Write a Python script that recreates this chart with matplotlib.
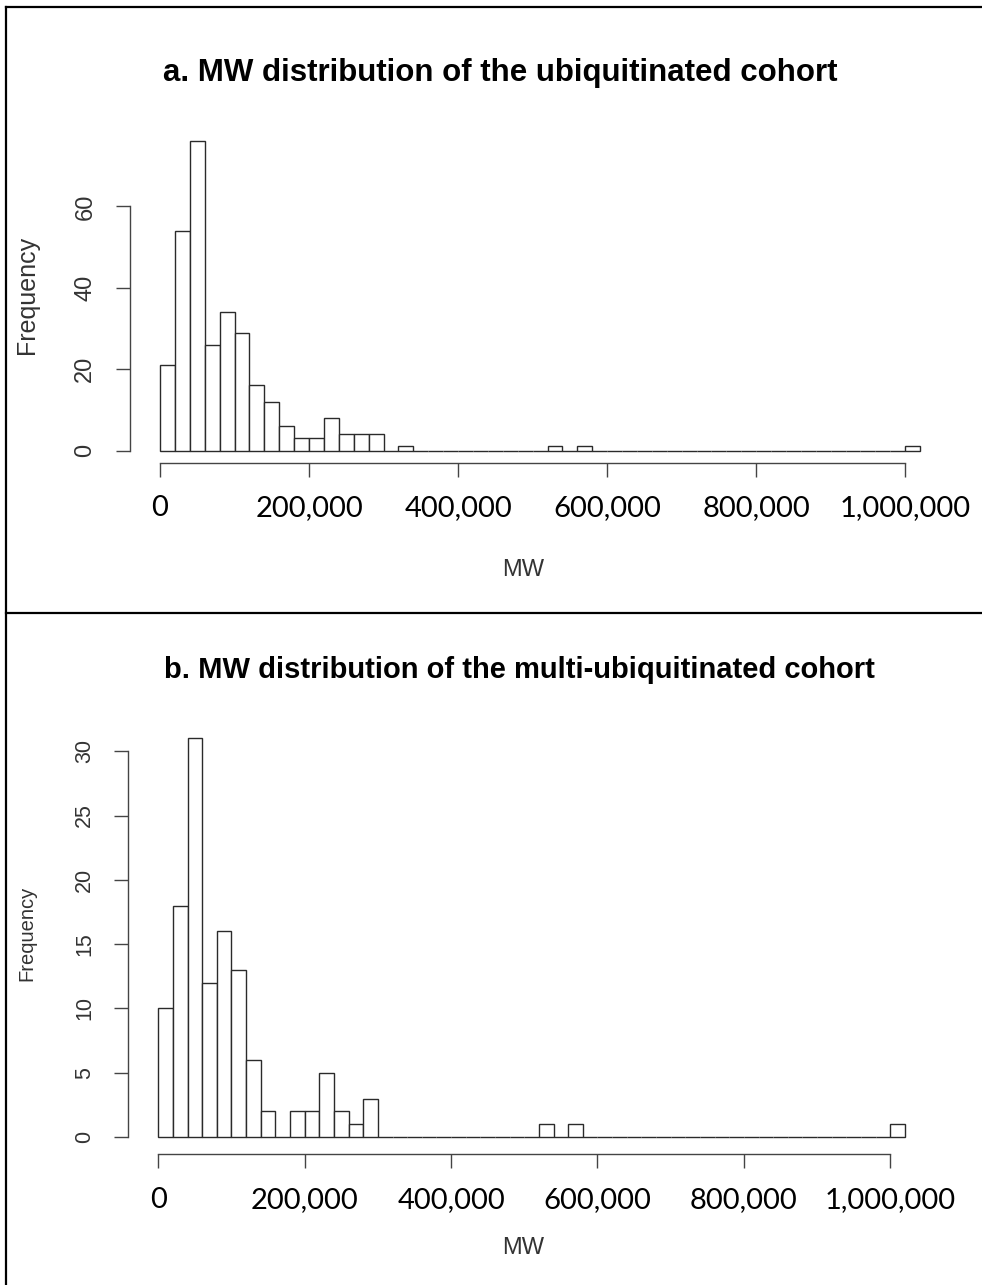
"""MW distribution histograms of the ubiquitinated and multi-ubiquitinated cohorts."""

import matplotlib

matplotlib.use("Agg")

import matplotlib.pyplot as plt  # noqa: E402
import numpy as np  # noqa: E402
from matplotlib.lines import Line2D  # noqa: E402

# ---------------------------------------------------------------------------
# Data (20,000 Da bins from 0 to 1,020,000; only non-empty bins listed)
# ---------------------------------------------------------------------------
BIN_WIDTH = 20000
N_BINS = 51

bins_a = [0, 20000, 40000, 60000, 80000, 100000, 120000, 140000, 160000,
          180000, 200000, 220000, 240000, 260000, 280000, 320000, 520000,
          560000, 1000000]
counts_a = [21, 54, 76, 26, 34, 29, 16, 12, 6, 3, 3, 8, 4, 4, 4, 1, 1, 1, 1]

bins_b = [0, 20000, 40000, 60000, 80000, 100000, 120000, 140000, 180000,
          200000, 220000, 240000, 260000, 280000, 520000, 560000, 1000000]
counts_b = [10, 18, 31, 12, 16, 13, 6, 2, 2, 2, 5, 2, 1, 3, 1, 1, 1]

x_ticks = [0, 200000, 400000, 600000, 800000, 1000000]
x_tick_labels = ["0", "200,000", "400,000", "600,000", "800,000", "1,000,000"]
y_ticks_a = [0, 20, 40, 60]
y_ticks_b = [0, 5, 10, 15, 20, 25, 30]

title_a = "a. MW distribution of the ubiquitinated cohort"
title_b = "b. MW distribution of the multi-ubiquitinated cohort"

FIG_W, FIG_H = 982, 1285
EDGE = "#2a2a2a"
AXIS = "#444444"


def full_counts(starts, counts):
    arr = np.zeros(N_BINS)
    for s, c in zip(starts, counts):
        arr[int(s // BIN_WIDTH)] = c
    return arr


def px_rect(x0, y0, x1, y1):
    """Pixel box (top-left origin) -> figure fraction [l, b, w, h]."""
    return [x0 / FIG_W, 1 - y1 / FIG_H, (x1 - x0) / FIG_W, (y1 - y0) / FIG_H]


def draw_hist(ax, starts, counts, yticks, ytick_size, xpad, ypad):
    heights = full_counts(starts, counts)
    lefts = np.arange(N_BINS) * BIN_WIDTH
    ax.bar(lefts, heights, width=BIN_WIDTH, align="edge", facecolor="white",
           edgecolor=EDGE, linewidth=1.0)
    top = max(counts) * 1.04
    span = N_BINS * BIN_WIDTH
    ax.set_xlim(-0.04 * span, span * 1.04)
    ax.set_ylim(-0.04 * top, top)

    for side in ("top", "right"):
        ax.spines[side].set_visible(False)
    ax.spines["left"].set_bounds(yticks[0], yticks[-1])
    ax.spines["bottom"].set_bounds(x_ticks[0], x_ticks[-1])
    for side in ("left", "bottom"):
        ax.spines[side].set_color(AXIS)
        ax.spines[side].set_linewidth(1.0)

    ax.set_xticks(x_ticks)
    ax.set_xticklabels(x_tick_labels, fontfamily="Lato", fontsize=21)
    ax.set_yticks(yticks)
    ax.set_yticklabels([str(v) for v in yticks], rotation=90, va="center",
                       fontfamily="Liberation Sans", fontsize=ytick_size,
                       color="#333333")
    ax.tick_params(axis="both", direction="out", length=10, width=1.0,
                   color=AXIS)
    ax.tick_params(axis="x", pad=xpad)
    ax.tick_params(axis="y", pad=ypad)


fig = plt.figure(figsize=(FIG_W / 100, FIG_H / 100), dpi=100)

ax_a = fig.add_axes(px_rect(129.6, 129, 950.5, 463.4))
draw_hist(ax_a, bins_a, counts_a, y_ticks_a, 17, 13, 14)

ax_b = fig.add_axes(px_rect(128.4, 722.4, 934.8, 1153.7))
draw_hist(ax_b, bins_b, counts_b, y_ticks_b, 15.5, 14, 14)

# titles and axis labels
fig.text(500 / FIG_W, 1 - 73 / FIG_H, title_a, ha="center", va="center",
         fontfamily="Liberation Sans", fontweight="bold", fontsize=22.5)
fig.text(519 / FIG_W, 1 - 670 / FIG_H, title_b, ha="center", va="center",
         fontfamily="Liberation Sans", fontweight="bold", fontsize=21)
for y in (570, 1248):
    fig.text(523 / FIG_W, 1 - y / FIG_H, "MW", ha="center", va="center",
             fontfamily="Liberation Sans", fontsize=17, color="#333333")
fig.text(27 / FIG_W, 1 - 295 / FIG_H, "Frequency", rotation=90, ha="center",
         va="center", fontfamily="Liberation Sans", fontsize=18,
         color="#333333")
fig.text(27 / FIG_W, 1 - 933 / FIG_H, "Frequency", rotation=90, ha="center",
         va="center", fontfamily="Liberation Sans", fontsize=14.5,
         color="#333333")

# panel frames
frame = dict(color="black", linewidth=1.6, transform=fig.transFigure)
fig.add_artist(Line2D([6 / FIG_W, 6 / FIG_W], [1 - 7 / FIG_H, 0], **frame))
fig.add_artist(Line2D([6 / FIG_W, 1], [1 - 7 / FIG_H, 1 - 7 / FIG_H], **frame))
fig.add_artist(Line2D([6 / FIG_W, 1], [1 - 613 / FIG_H, 1 - 613 / FIG_H], **frame))

fig.savefig("out.png", dpi=100)
